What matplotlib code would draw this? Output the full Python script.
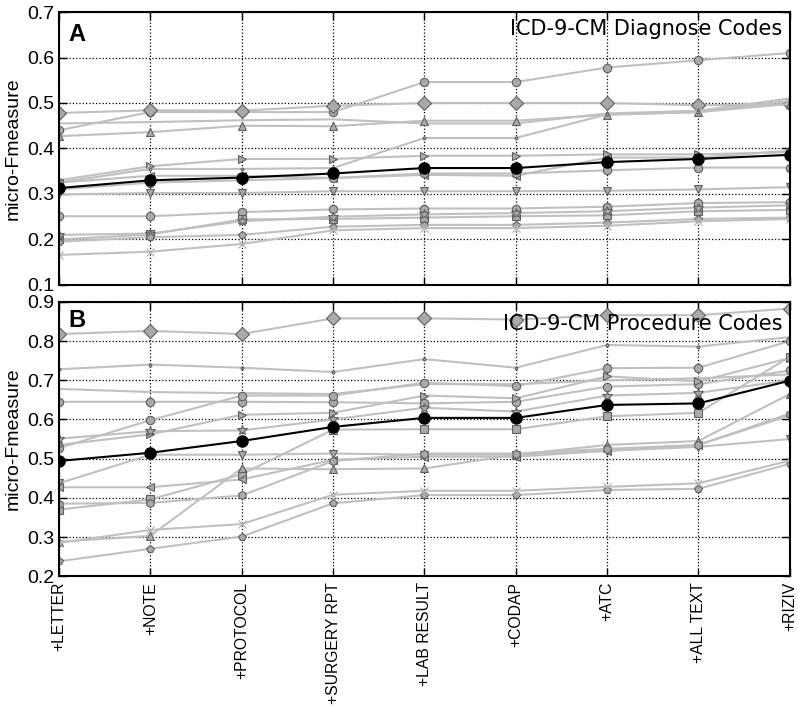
import numpy as np
import matplotlib
matplotlib.use("Agg")
import matplotlib.pyplot as plt

categories = ["+LETTER", "+NOTE", "+PROTOCOL", "+SURGERY RPT", "+LAB RESULT",
              "+CODAP", "+ATC", "+ALL TEXT", "+RIZIV"]

# panel A - ICD-9-CM diagnose codes
diag_circle_top = [0.440, 0.480, 0.480, 0.480, 0.546, 0.546, 0.578, 0.594, 0.610]
diag_diamond    = [0.478, 0.484, 0.483, 0.494, 0.500, 0.500, 0.500, 0.495, 0.497]
diag_plain      = [0.455, 0.458, 0.462, 0.464, 0.455, 0.455, 0.477, 0.483, 0.510]
diag_tri_up     = [0.427, 0.436, 0.450, 0.449, 0.461, 0.461, 0.474, 0.480, 0.498]
diag_tri_right  = [0.330, 0.361, 0.377, 0.377, 0.384, 0.384, 0.387, 0.387, 0.392]
diag_dot        = [0.325, 0.355, 0.355, 0.357, 0.423, 0.423, 0.475, 0.480, 0.505]
diag_tri_left   = [0.325, 0.340, 0.340, 0.335, 0.342, 0.340, 0.380, 0.380, 0.395]
diag_circle_mid = [0.310, 0.325, 0.330, 0.335, 0.345, 0.345, 0.352, 0.358, 0.358]
diag_tri_down   = [0.299, 0.302, 0.302, 0.306, 0.306, 0.306, 0.307, 0.310, 0.315]
diag_circle_low = [0.251, 0.251, 0.260, 0.266, 0.268, 0.268, 0.272, 0.280, 0.282]
diag_square     = [0.200, 0.211, 0.244, 0.245, 0.248, 0.251, 0.253, 0.262, 0.265]
diag_star       = [0.210, 0.213, 0.240, 0.250, 0.255, 0.258, 0.262, 0.270, 0.275]
diag_pentagon   = [0.195, 0.205, 0.210, 0.228, 0.232, 0.232, 0.237, 0.245, 0.248]
diag_cross      = [0.166, 0.173, 0.190, 0.220, 0.225, 0.225, 0.230, 0.240, 0.245]
diag_mean       = [0.313, 0.330, 0.336, 0.345, 0.357, 0.357, 0.370, 0.377, 0.386]

# panel B - ICD-9-CM procedure codes
proc_diamond    = [0.818, 0.826, 0.818, 0.858, 0.858, 0.855, 0.866, 0.866, 0.883]
proc_dot        = [0.728, 0.740, 0.732, 0.721, 0.754, 0.732, 0.790, 0.786, 0.810]
proc_plain      = [0.678, 0.670, 0.667, 0.665, 0.690, 0.690, 0.700, 0.705, 0.715]
proc_circle_top = [0.645, 0.645, 0.645, 0.644, 0.641, 0.645, 0.684, 0.690, 0.725]
proc_circle_up  = [0.527, 0.598, 0.661, 0.661, 0.694, 0.685, 0.731, 0.732, 0.800]
proc_tri_right  = [0.535, 0.562, 0.612, 0.617, 0.661, 0.654, 0.710, 0.697, 0.757]
proc_star       = [0.551, 0.570, 0.572, 0.600, 0.630, 0.620, 0.661, 0.668, 0.700]
proc_square     = [0.370, 0.396, 0.460, 0.574, 0.575, 0.575, 0.608, 0.617, 0.760]
proc_tri_down   = [0.437, 0.510, 0.510, 0.513, 0.510, 0.510, 0.520, 0.530, 0.550]
proc_tri_up     = [0.288, 0.303, 0.475, 0.473, 0.475, 0.510, 0.535, 0.545, 0.665]
proc_tri_left   = [0.427, 0.427, 0.447, 0.497, 0.505, 0.505, 0.520, 0.535, 0.610]
proc_hexagon    = [0.385, 0.387, 0.406, 0.494, 0.513, 0.513, 0.525, 0.535, 0.615]
proc_pentagon   = [0.238, 0.270, 0.301, 0.386, 0.407, 0.407, 0.420, 0.423, 0.487]
proc_cross      = [0.285, 0.318, 0.333, 0.408, 0.418, 0.418, 0.428, 0.437, 0.495]
proc_mean       = [0.494, 0.515, 0.545, 0.581, 0.604, 0.604, 0.637, 0.641, 0.699]

diag_series = [(diag_circle_top, 'o'), (diag_diamond, 'D'), (diag_plain, ''),
               (diag_tri_up, '^'), (diag_tri_right, '>'), (diag_dot, '.'),
               (diag_tri_left, '<'), (diag_circle_mid, 'o'), (diag_tri_down, 'v'),
               (diag_circle_low, 'o'), (diag_square, 's'), (diag_star, '*'),
               (diag_pentagon, 'p'), (diag_cross, 'x')]
proc_series = [(proc_diamond, 'D'), (proc_dot, '.'), (proc_plain, ''),
               (proc_circle_top, 'o'), (proc_circle_up, 'o'), (proc_tri_right, '>'),
               (proc_star, '*'), (proc_square, 's'), (proc_tri_down, 'v'),
               (proc_tri_up, '^'), (proc_tri_left, '<'), (proc_hexagon, 'h'),
               (proc_pentagon, 'p'), (proc_cross, 'x')]

plt.rcParams['font.family'] = ['Liberation Sans', 'DejaVu Sans']

fig = plt.figure(figsize=(7.97, 7.07), dpi=100)
axA = fig.add_axes([0.074, 0.597, 0.917, 0.386])
axB = fig.add_axes([0.074, 0.185, 0.917, 0.388])

xx = np.arange(len(categories))


def draw(ax, series, mean, ylim, title, letter, ty, ly):
    for vals, mk in series:
        ms = {'D': 7, '.': 4, '*': 7, 'x': 6}.get(mk, 6)
        mec = '#b0b0b0' if mk == 'x' else '#606060'
        ax.plot(xx, vals, color='#c0c0c0', lw=1.5, marker=mk if mk else None,
                ms=ms, mfc='#a9a9a9', mec=mec, mew=0.8, zorder=2)
    ax.plot(xx, mean, color='black', lw=1.5, marker='o', ms=8, mfc='black',
            mec='black', zorder=3)
    ax.set_xlim(0, len(categories) - 1)
    ax.set_ylim(*ylim)
    ax.set_yticks(np.arange(ylim[0], ylim[1] + 0.001, 0.1))
    ax.set_yticklabels(['%.1f' % v for v in np.arange(ylim[0], ylim[1] + 0.001, 0.1)])
    ax.set_xticks(xx)
    ax.grid(True, color='black', linestyle=':', linewidth=0.9)
    ax.tick_params(direction='in', top=True, right=True, length=6, width=1,
                   labelsize=14)
    for sp in ax.spines.values():
        sp.set_linewidth(1.5)
    ax.set_ylabel('micro-Fmeasure', fontsize=14, labelpad=4)
    ax.text(0.990, ty, title, transform=ax.transAxes, ha='right', va='top',
            fontsize=15, family='DejaVu Sans', zorder=5)
    ax.text(0.013, ly, letter, transform=ax.transAxes, ha='left', va='top',
            fontsize=17, fontweight='bold', zorder=5)


draw(axA, diag_series, diag_mean, (0.1, 0.7), 'ICD-9-CM Diagnose Codes', 'A', 0.975, 0.96)
draw(axB, proc_series, proc_mean, (0.2, 0.9), 'ICD-9-CM Procedure Codes', 'B', 0.955, 0.975)

axA.set_xticklabels([])
axB.set_xticklabels(categories, rotation=90, fontsize=11.3)
axB.tick_params(axis='x', labelsize=11.3, pad=4)

fig.savefig('out.png', dpi=100)
